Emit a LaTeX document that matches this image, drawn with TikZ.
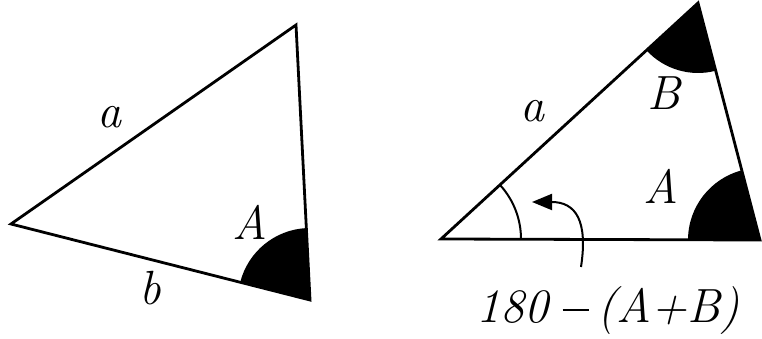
\documentclass[tikz,border=0pt]{standalone}
\usetikzlibrary{angles,arrows.meta}
\begin{document}
\begin{tikzpicture}[x=1pt,y=1pt,
  edge/.style={line width=2.8pt,line join=miter},
  lbl/.style={inner sep=0pt,anchor=base,font=\rmfamily\fontsize{48}{58}\selectfont\itshape},
  wedge/.style={fill=black,draw=none},
  thinarc/.style={draw=black,line width=2pt}]
\useasboundingbox (0,0) rectangle (762,339);
% left triangle
\coordinate (L1) at (11,115);
\coordinate (T1) at (296,314);
\coordinate (R1) at (310,39);
\pic[wedge,angle radius=72pt] {angle = T1--R1--L1};
\draw[edge] (L1) -- (T1) -- (R1) -- cycle;
\node[lbl] (la) at (109,211) {a};
\node[lbl] (lb) at (150,34) {b};
\node[lbl] (lA) at (250,99) {A};
% right triangle
\coordinate (L2) at (441,100);
\coordinate (T2) at (698,336);
\coordinate (R2) at (760,99);
\pic[wedge,angle radius=70pt] {angle = L2--T2--R2};
\pic[wedge,angle radius=72pt] {angle = T2--R2--L2};
\pic[thinarc,angle radius=80pt] {angle = R2--L2--T2};
\draw[edge] (L2) -- (T2) -- (R2) -- cycle;
\node[lbl] (ra) at (532,217) {a};
\node[lbl] (rB) at (664,229) {B};
\node[lbl] (rA) at (661,135) {A};
\node[lbl] (expr) at (608,16) {180\hspace{0.3em}\rule[0.24em]{0.55em}{0.05em}\hspace{0.18em}(A+B)};
\coordinate (as) at (581,72);
\coordinate (at) at (532,137);
\draw[line width=2pt,-{Triangle[length=20pt,width=16pt]}] (as) .. controls (588,118) and (576,137) .. (at);
\end{tikzpicture}
\end{document}
